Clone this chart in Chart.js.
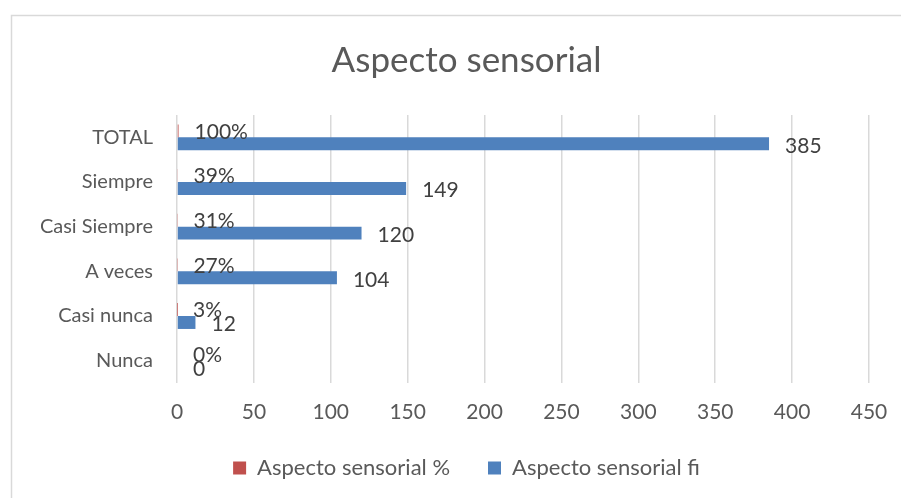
<!DOCTYPE html>
<html>
<head>
<meta charset="utf-8">
<script src="https://cdn.jsdelivr.net/npm/chart.js@4/dist/chart.umd.min.js"></script>
<style>
  html, body { margin: 0; padding: 0; background: #ffffff; overflow: hidden; }
  #wrap { position: relative; width: 901px; height: 498px; }
</style>
</head>
<body>
<div id="wrap"><canvas id="chart" width="901" height="498"></canvas></div>
<script>
// Response categories, listed top to bottom
const categories = ['TOTAL', 'Siempre', 'Casi Siempre', 'A veces', 'Casi nunca', 'Nunca'];
// Share of answers (fraction of the total)
const percentValues = [1.00, 0.39, 0.31, 0.27, 0.03, 0.00];
// Absolute frequency
const frequencyValues = [385, 149, 120, 104, 12, 0];
// Value axis ticks
const axisMin = 0;
const axisMax = 450;
const axisStep = 50;

const FONT = 'Lato, "Open Sans", sans-serif';
const TEXT = '#595959';

// White page with the light frame around the chart area
const framePlugin = {
  id: 'frame',
  beforeDraw(chart) {
    const ctx = chart.ctx;
    ctx.save();
    ctx.fillStyle = '#ffffff';
    ctx.fillRect(0, 0, chart.width, chart.height);
    ctx.strokeStyle = '#d9d9d9';
    ctx.lineWidth = 1.5;
    ctx.strokeRect(11.5, 15.5, chart.width + 20, chart.height + 20);
    ctx.restore();
  },
  // let axis labels extend past their compact axis boxes without clipping
  afterLayout(chart) {
    chart.scales.y.left = 0;
    chart.scales.x.bottom = chart.height;
  }
};

// Value labels placed just past the end of each bar
const valueLabels = {
  id: 'valueLabels',
  afterDatasetsDraw(chart) {
    const ctx = chart.ctx;
    ctx.save();
    ctx.font = '21px ' + FONT;
    ctx.fillStyle = '#404040';
    ctx.textAlign = 'left';
    ctx.textBaseline = 'middle';
    chart.data.datasets.forEach((ds, di) => {
      const meta = chart.getDatasetMeta(di);
      meta.data.forEach((bar, i) => {
        const v = ds.data[i];
        const txt = ds.isPercent ? Math.round(v * 100) + '%' : String(v);
        const dy = ds.isPercent ? 1 : 2;
        ctx.fillText(txt, bar.x + 16, bar.y + dy);
      });
    });
    ctx.restore();
  }
};

new Chart(document.getElementById('chart'), {
  type: 'bar',
  data: {
    labels: categories,
    datasets: [
      {
        label: 'Aspecto sensorial %',
        data: percentValues,
        isPercent: true,
        backgroundColor: '#C0504D',
        borderWidth: 0
      },
      {
        label: 'Aspecto sensorial fi',
        data: frequencyValues,
        isPercent: false,
        backgroundColor: '#4F81BD',
        borderWidth: 0
      }
    ]
  },
  options: {
    indexAxis: 'y',
    responsive: false,
    animation: false,
    devicePixelRatio: 1,
    categoryPercentage: 0.58,
    barPercentage: 1.0,
    layout: { padding: { left: 64, right: 32, top: 20, bottom: 9 } },
    plugins: {
      title: {
        display: true,
        text: 'Aspecto sensorial',
        color: TEXT,
        font: { family: FONT, size: 35, weight: 'normal' },
        padding: { top: 20, bottom: 33 }
      },
      legend: {
        display: true,
        position: 'bottom',
        labels: {
          color: TEXT,
          font: { family: FONT, size: 22 },
          boxWidth: 13,
          boxHeight: 13,
          padding: 38
        }
      },
      tooltip: { enabled: false }
    },
    scales: {
      x: {
        type: 'linear',
        min: axisMin,
        max: axisMax,
        ticks: {
          stepSize: axisStep,
          color: TEXT,
          font: { family: FONT, size: 21 },
          padding: 17
        },
        grid: { color: '#d9d9d9', lineWidth: 1.5, drawTicks: false },
        border: { display: false },
        afterFit(scale) {
          scale.height = 36;
          scale.paddingLeft = 0;
          scale.paddingRight = 0;
        }
      },
      y: {
        type: 'category',
        ticks: {
          color: TEXT,
          font: { family: FONT, size: 20 },
          padding: 24
        },
        grid: { display: false, drawTicks: false },
        border: { display: false },
        afterFit(scale) { scale.width = 177 - 64; }
      }
    }
  },
  plugins: [framePlugin, valueLabels]
});
</script>
</body>
</html>
